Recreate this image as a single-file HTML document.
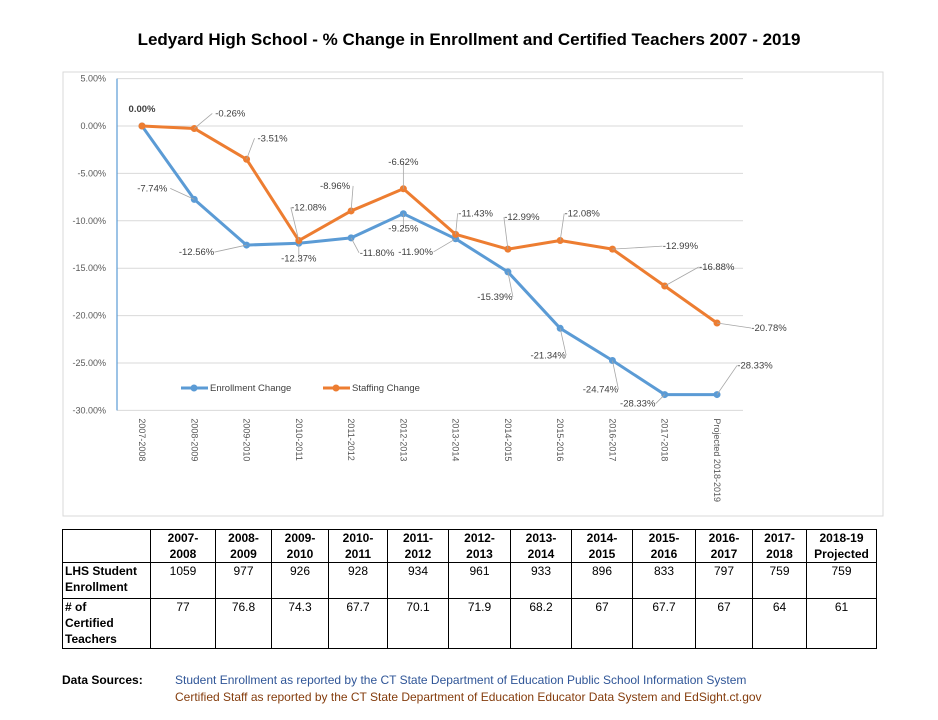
<!DOCTYPE html>
<html><head><meta charset="utf-8"><style>
body{margin:0;background:#fff;width:938px;height:720px;overflow:hidden;font-family:"Liberation Sans",sans-serif;}
#title{position:absolute;left:0;width:938px;top:30px;text-align:center;font-weight:bold;font-size:17px;color:#000;}
table{position:absolute;left:62px;top:529px;border-collapse:collapse;font-size:12px;table-layout:fixed;width:815px;}
td{border:1.5px solid #000;text-align:center;vertical-align:top;padding:0 2px;line-height:16px;overflow:hidden;white-space:nowrap;}
td.h{text-align:left;font-weight:bold;}
tr.hd td{font-weight:bold;vertical-align:bottom;}
.src{position:absolute;font-size:12px;}
</style></head><body>
<div id="title">Ledyard High School - % Change in Enrollment and Certified Teachers 2007 - 2019</div>
<svg id="chart" width="938" height="520" style="position:absolute;left:0;top:0"></svg>
<table>
<colgroup><col style="width:88px"><col style="width:65px"><col style="width:56px"><col style="width:57px"><col style="width:59px"><col style="width:61px"><col style="width:62px"><col style="width:61px"><col style="width:61px"><col style="width:63px"><col style="width:57px"><col style="width:54px"><col style="width:70px"></colgroup>
<tr class="hd" style="height:33px"><td></td><td>2007-<br>2008</td><td>2008-<br>2009</td><td>2009-<br>2010</td><td>2010-<br>2011</td><td>2011-<br>2012</td><td>2012-<br>2013</td><td>2013-<br>2014</td><td>2014-<br>2015</td><td>2015-<br>2016</td><td>2016-<br>2017</td><td>2017-<br>2018</td><td>2018-19<br>Projected</td></tr>
<tr style="height:36px"><td class="h">LHS Student<br>Enrollment</td><td>1059</td><td>977</td><td>926</td><td>928</td><td>934</td><td>961</td><td>933</td><td>896</td><td>833</td><td>797</td><td>759</td><td>759</td></tr>
<tr style="height:50px"><td class="h"># of<br>Certified<br>Teachers</td><td>77</td><td>76.8</td><td>74.3</td><td>67.7</td><td>70.1</td><td>71.9</td><td>68.2</td><td>67</td><td>67.7</td><td>67</td><td>64</td><td>61</td></tr>
</table>
<div class="src" style="left:62px;top:673px;font-weight:bold">Data Sources:</div>
<div class="src" style="left:175px;top:673px;color:#2F5597">Student Enrollment as reported by the CT State Department of Education Public School Information System</div>
<div class="src" style="left:175px;top:690px;color:#843C0C">Certified Staff as reported by the CT State Department of Education Educator Data System and EdSight.ct.gov</div>
<script>
const categories=["2007-2008","2008-2009","2009-2010","2010-2011","2011-2012","2012-2013","2013-2014","2014-2015","2015-2016","2016-2017","2017-2018","Projected 2018-2019"];
const enrollment=[0,-7.74,-12.56,-12.37,-11.80,-9.25,-11.90,-15.39,-21.34,-24.74,-28.33,-28.33];
const staffing=[0,-0.26,-3.51,-12.08,-8.96,-6.62,-11.43,-12.99,-12.08,-12.99,-16.88,-20.78];
const yTicks=[5,0,-5,-10,-15,-20,-25,-30];
// label offsets (style only)
const eOff=[[0,0],[-42,-8],[-50,10],[0,18],[26,18],[0,18],[-40,16],[-13,28],[-12,30],[-12,32],[-27,12],[38,-26]];
const sOff=[[0,-14],[36,-12],[26,-18],[10,-30],[-16,-22],[0,-24],[20,-18],[14,-29],[22,-24],[68,0],[52,-16],[52,8]];
const NS="http://www.w3.org/2000/svg";
const svg=document.getElementById('chart');
const X0=142,DX=(717-142)/11;
const x=i=>X0+i*DX;
const y=v=>126-(v/5)*47.4;
function mk(t,a,p){const e=document.createElementNS(NS,t);for(const k in a)e.setAttribute(k,a[k]);(p||svg).appendChild(e);return e;}
let b=mk('rect',{x:63,y:72,width:820,height:444,fill:'none',stroke:'#d9d9d9'});


yTicks.forEach(v=>{
 const g=mk('line',{x1:117,x2:743,y1:y(v),y2:y(v),stroke:'#d9d9d9'});
 
 
 const t=mk('text',{x:106,y:y(v)+3,'text-anchor':'end','font-size':9,fill:'#595959'});
 t.textContent=v.toFixed(2)+'%';
 
 
});
const ax=mk('line',{x1:117,x2:117,y1:y(5),y2:y(-30),stroke:'#5B9BD5','stroke-width':1.2});


categories.forEach((c,i)=>{
 const t=mk('text',{transform:`translate(${x(i)-3},${y(-30)+8}) rotate(90)`,'font-size':9,fill:'#595959'});
 t.textContent=c;
 
 
});
function series(data,color,off,name){
 const pl=mk('polyline',{points:data.map((v,i)=>x(i)+','+y(v)).join(' '),fill:'none',stroke:color,'stroke-width':3,'stroke-linejoin':'round'});
 
 
 data.forEach((v,i)=>{
  const c=mk('circle',{cx:x(i),cy:y(v),r:3.5,fill:color});
  
  
  if(name==='enrollment'&&i===0)return;
  const lx=x(i)+off[i][0],ly=y(v)+off[i][1];
  if(Math.abs(off[i][0])>20||Math.abs(off[i][1])>16){mk('line',{x1:x(i),y1:y(v),x2:lx-Math.sign(off[i][0])*18,y2:ly-3,stroke:'#a6a6a6','stroke-width':0.8});}
  const t=mk('text',{x:lx,y:ly,'text-anchor':'middle','font-size':9.5,fill:'#404040','font-weight':(i===0?'bold':'normal')});
  t.textContent=v.toFixed(2)+'%';
  
  
 });
}
series(enrollment,'#5B9BD5',eOff,'enrollment');
series(staffing,'#ED7D31',sOff,'staffing');
[[181,'#5B9BD5','Enrollment Change'],[323,'#ED7D31','Staffing Change']].forEach(([lx,col,txt])=>{
 const g=mk('g',{});
 
 
 mk('line',{x1:lx,x2:lx+27,y1:388,y2:388,stroke:col,'stroke-width':3},g);
 mk('circle',{cx:lx+13,cy:388,r:3.5,fill:col},g);
 const t=mk('text',{x:lx+29,y:391,'font-size':9.5,fill:'#404040'},g);t.textContent=txt;
});
</script>
</body></html>
